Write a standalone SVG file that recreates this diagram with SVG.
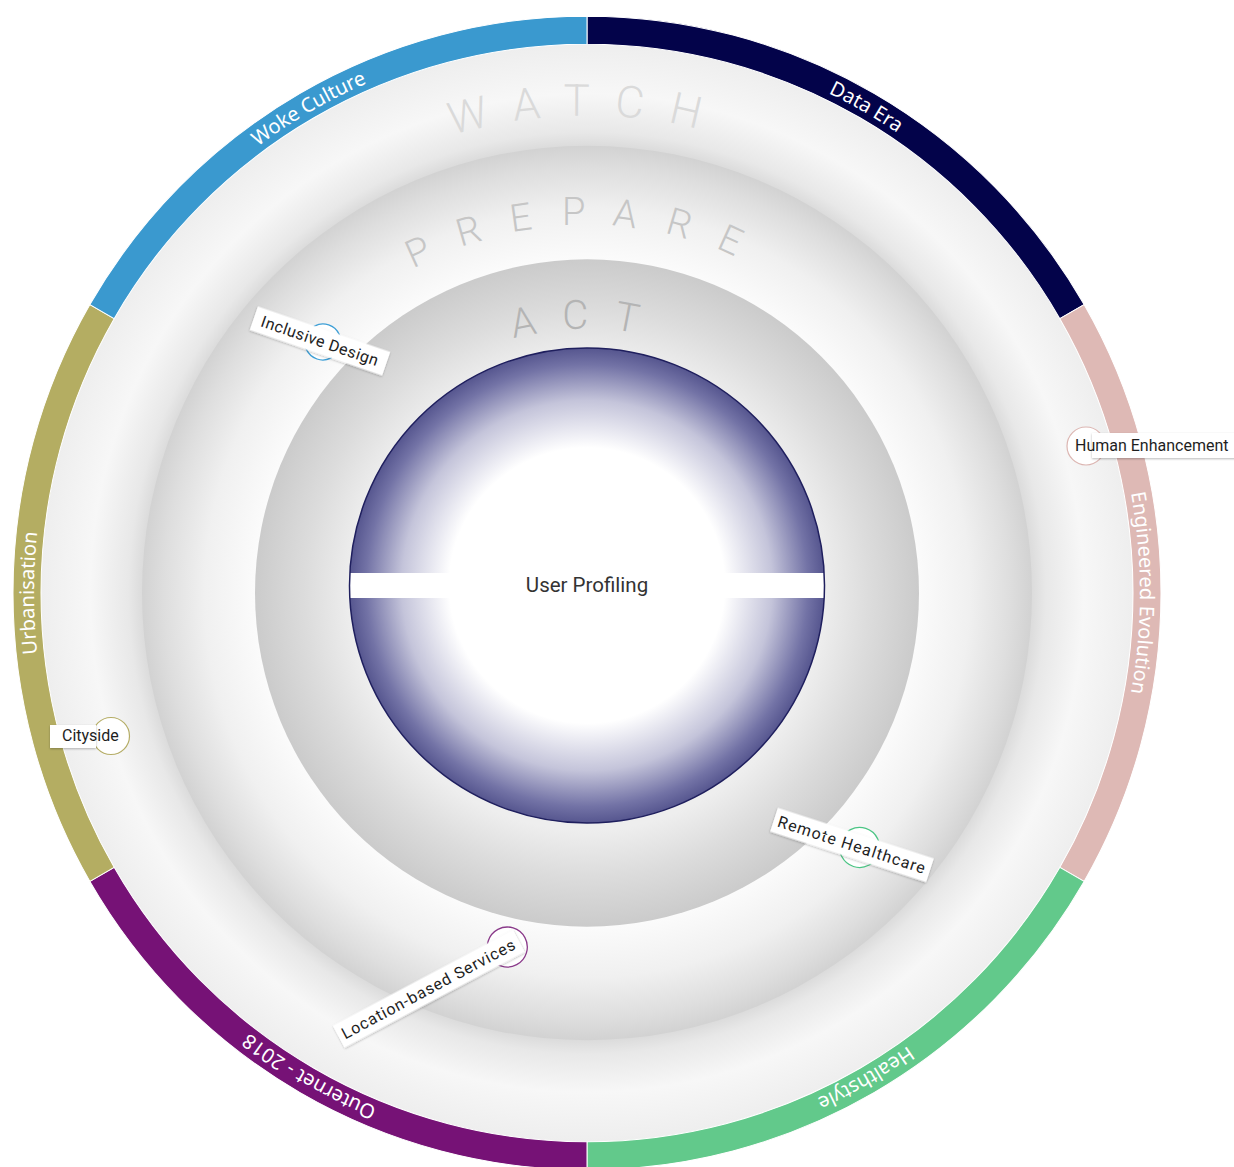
<svg xmlns="http://www.w3.org/2000/svg" xmlns:xlink="http://www.w3.org/1999/xlink" width="1234" height="1167" viewBox="0 0 1234 1167">
  <defs>
    <style>
      .band-label { font-family: "Noto Sans", "Open Sans", sans-serif; font-size: 20px; fill: #ffffff; }
      .ring-word { font-family: Roboto, "Liberation Sans", sans-serif; font-weight: 300; text-anchor: middle; }
      .tag-text { font-family: Roboto, "Liberation Sans", sans-serif; font-size: 16px; fill: #1e1e1e; }
      .tag-box { fill: #ffffff; filter: url(#tagShadow); }
      .seg { stroke: #ffffff; stroke-width: 1; }
    </style>
    <radialGradient id="watchGrad" cx="0" cy="0" r="546" gradientUnits="userSpaceOnUse">
      <stop offset="0.80" stop-color="#d4d4d4"/>
      <stop offset="0.84" stop-color="#e8e8e8"/>
      <stop offset="0.91" stop-color="#f7f7f7"/>
      <stop offset="1" stop-color="#eeeeee"/>
    </radialGradient>
    <radialGradient id="prepGrad" cx="0" cy="0" r="445" gradientUnits="userSpaceOnUse">
      <stop offset="0.746" stop-color="#fbfbfb"/>
      <stop offset="0.86" stop-color="#f0f0f0"/>
      <stop offset="0.95" stop-color="#dedede"/>
      <stop offset="1" stop-color="#d2d2d2"/>
    </radialGradient>
    <radialGradient id="actGrad" cx="0" cy="0" r="332" gradientUnits="userSpaceOnUse">
      <stop offset="0.71" stop-color="#eeeeee"/>
      <stop offset="0.85" stop-color="#dcdcdc"/>
      <stop offset="1" stop-color="#cbcbcb"/>
    </radialGradient>
    <radialGradient id="coreGrad" cx="587" cy="585.5" r="237.5" gradientUnits="userSpaceOnUse">
      <stop offset="0" stop-color="#ffffff"/>
      <stop offset="0.58" stop-color="#ffffff"/>
      <stop offset="0.78" stop-color="#c4c4da"/>
      <stop offset="0.93" stop-color="#7373a6"/>
      <stop offset="1" stop-color="#56568f"/>
    </radialGradient>
    <clipPath id="coreClip">
      <circle cx="587" cy="585.5" r="237.5"/>
    </clipPath>
    <filter id="tagShadow" x="-20%" y="-50%" width="140%" height="200%">
      <feDropShadow dx="0" dy="1" stdDeviation="1.2" flood-color="#000000" flood-opacity="0.28"/>
    </filter>
    <!-- text paths, in ring coordinates (origin at ring centre) -->
    <path id="bandPath" d="M0,-553 A553,553 0 1 1 0,553 A553,553 0 1 1 0,-553"/>
    <path id="watchPath" d="M-475,0 A475,475 0 0 1 475,0"/>
    <path id="prepPath" d="M-366,0 A366,366 0 0 1 366,0"/>
    <path id="actPath" d="M-263,0 A263,263 0 0 1 263,0"/>
  </defs>

  <rect width="1234" height="1167" fill="#ffffff"/>

  <g transform="translate(587,593) scale(1,1.005)">
    <g id="ring-watch">
      <circle r="546" fill="url(#watchGrad)"/>
      <text class="ring-word" font-size="44" letter-spacing="25" fill="#dadada"><textPath href="#watchPath" startOffset="50%">WATCH</textPath></text>
    </g>
    <g id="ring-prepare">
      <circle r="445" fill="url(#prepGrad)"/>
      <text class="ring-word" font-size="38" letter-spacing="29" fill="#c6c6c6"><textPath href="#prepPath" startOffset="50%">PREPARE</textPath></text>
    </g>
    <g id="ring-act">
      <circle r="332" fill="url(#actGrad)"/>
      <text class="ring-word" font-size="40" letter-spacing="25" fill="#b4b4b4"><textPath href="#actPath" startOffset="50%">ACT</textPath></text>
    </g>

    <!-- outer band: six 60-degree sectors, clockwise from the top -->
    <g id="band-data-era">
      <path class="seg" fill="#03034a" d="M0,-574 A574,574 0 0 1 497.1,-287 L472.85,-273 A546,546 0 0 0 0,-546 Z"/>
      <text class="band-label"><textPath href="#bandPath" startOffset="8.333%" text-anchor="middle">Data Era</textPath></text>
    </g>
    <g id="band-engineered-evolution">
      <path class="seg" fill="#deb9b5" d="M497.1,-287 A574,574 0 0 1 497.1,287 L472.85,273 A546,546 0 0 0 472.85,-273 Z"/>
      <text class="band-label"><textPath href="#bandPath" startOffset="25%" text-anchor="middle">Engineered Evolution</textPath></text>
    </g>
    <g id="band-healthstyle">
      <path class="seg" fill="#62c98b" d="M497.1,287 A574,574 0 0 1 0,574 L0,546 A546,546 0 0 0 472.85,273 Z"/>
      <text class="band-label"><textPath href="#bandPath" startOffset="41.667%" text-anchor="middle">Healthstyle</textPath></text>
    </g>
    <g id="band-outernet">
      <path class="seg" fill="#761276" d="M0,574 A574,574 0 0 1 -497.1,287 L-472.85,273 A546,546 0 0 0 0,546 Z"/>
      <text class="band-label"><textPath href="#bandPath" startOffset="58.333%" text-anchor="middle">Outernet - 2018</textPath></text>
    </g>
    <g id="band-urbanisation">
      <path class="seg" fill="#b4ad62" d="M-497.1,287 A574,574 0 0 1 -497.1,-287 L-472.85,-273 A546,546 0 0 0 -472.85,273 Z"/>
      <text class="band-label"><textPath href="#bandPath" startOffset="75%" text-anchor="middle">Urbanisation</textPath></text>
    </g>
    <g id="band-woke-culture">
      <path class="seg" fill="#3a99cf" d="M-497.1,-287 A574,574 0 0 1 0,-574 L0,-546 A546,546 0 0 0 -472.85,-273 Z"/>
      <text class="band-label"><textPath href="#bandPath" startOffset="91.667%" text-anchor="middle">Woke Culture</textPath></text>
    </g>
  </g>

  <!-- core: User Profiling -->
  <g id="core-user-profiling">
    <circle cx="587" cy="585.5" r="237.5" fill="url(#coreGrad)"/>
    <rect x="349" y="573" width="476" height="25" fill="#ffffff" clip-path="url(#coreClip)"/>
    <circle cx="587" cy="585.5" r="237.5" fill="none" stroke="#1f1f5e" stroke-width="1.5"/>
    <text x="587" y="592" text-anchor="middle" font-family="Roboto, 'Liberation Sans', sans-serif" font-size="20.5" fill="#333333">User Profiling</text>
  </g>

  <!-- item tags -->
  <g id="tag-inclusive-design" transform="translate(320,341) rotate(19)">
    <circle cx="3" cy="0" r="18" fill="#ffffff" stroke="#3d9fd6" stroke-width="1.3"/>
    <rect class="tag-box" x="-70" y="-12.5" width="140" height="25"/>
    <text class="tag-text" x="0" y="5.5" text-anchor="middle" letter-spacing="0.5">Inclusive Design</text>
  </g>

  <g id="tag-remote-healthcare" transform="translate(852,845) rotate(18)">
    <circle cx="8" cy="0" r="20" fill="#ffffff" stroke="#4cc585" stroke-width="1.3"/>
    <rect class="tag-box" x="-82" y="-12.5" width="164" height="25"/>
    <text class="tag-text" x="0" y="5.5" text-anchor="middle" letter-spacing="1.1">Remote Healthcare</text>
  </g>

  <g id="tag-location-based-services" transform="translate(434,986) rotate(-28)">
    <circle cx="83" cy="0" r="20" fill="#ffffff" stroke="#8a3a8a" stroke-width="1.3"/>
    <rect class="tag-box" x="-108" y="-12.5" width="204" height="25"/>
    <text class="tag-text" x="-6" y="5.5" text-anchor="middle" letter-spacing="0.9">Location-based Services</text>
  </g>

  <g id="tag-cityside">
    <circle cx="111" cy="736" r="18.5" fill="#ffffff" stroke="#b5ad66" stroke-width="1.2"/>
    <rect class="tag-box" x="50" y="725" width="46" height="23"/>
    <text class="tag-text" x="62" y="741" font-size="15">Cityside</text>
  </g>

  <g id="tag-human-enhancement">
    <circle cx="1086" cy="446" r="19" fill="#ffffff" stroke="#dcb6b2" stroke-width="1.2"/>
    <rect class="tag-box" x="1092" y="433" width="150" height="25"/>
    <text class="tag-text" x="1075" y="451" font-size="16.2">Human Enhancement</text>
  </g>
</svg>
